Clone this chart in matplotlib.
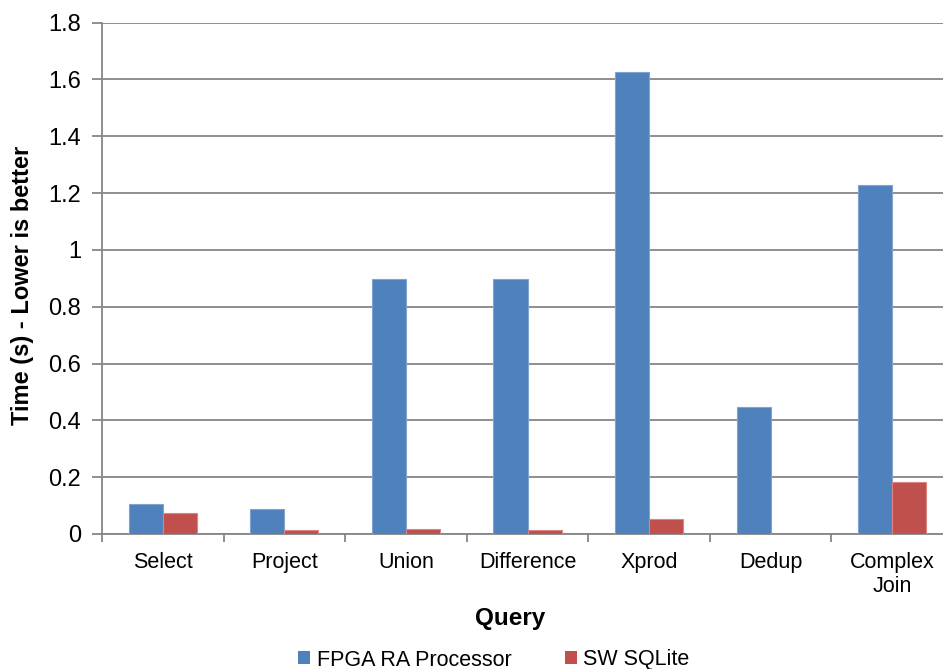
import matplotlib
matplotlib.use("Agg")
import matplotlib.pyplot as plt
import numpy as np
from matplotlib.patches import Patch

queries = ["Select", "Project", "Union", "Difference", "Xprod", "Dedup", "Complex\nJoin"]
fpga_times = [0.106, 0.088, 0.897, 0.897, 1.628, 0.446, 1.229]
sqlite_times = [0.075, 0.015, 0.018, 0.014, 0.052, 0.0, 0.183]
series_labels = ["FPGA RA Processor", "SW SQLite"]
yticks = [0, 0.2, 0.4, 0.6, 0.8, 1, 1.2, 1.4, 1.6, 1.8]

blue = "#4F81BD"
red = "#C0504D"
axis_gray = "#868686"

plt.rcParams["font.family"] = ["Liberation Sans", "DejaVu Sans"]

fig = plt.figure(figsize=(9.43, 6.69), dpi=100)
ax = fig.add_axes([0.1082, 0.2018, 0.9024, 0.7643])

x = np.arange(len(queries))
w = 0.28
ax.bar(x - w / 2, fpga_times, w, color=blue, edgecolor="#7FA3D3", linewidth=0.8, zorder=3)
ax.bar(x + w / 2, sqlite_times, w, color=red, edgecolor="#D98583", linewidth=0.8, zorder=3)

ax.set_xlim(-0.5, len(queries) - 0.5)
ax.set_ylim(0, 1.8)
ax.set_yticks(yticks)
ax.set_yticklabels([f"{v:g}" for v in yticks], fontsize=17)
ax.yaxis.grid(True, color=axis_gray, linewidth=1.3, zorder=0)
ax.set_axisbelow(True)

ax.set_xticks(x)
ax.set_xticklabels(queries, fontsize=15.5, linespacing=1.2)
ax.set_xticks(np.arange(len(queries) + 1) - 0.5, minor=True)
ax.tick_params(axis="x", which="major", length=0, pad=13)
ax.tick_params(axis="x", which="minor", length=6, width=1.3, color=axis_gray, direction="out")
ax.tick_params(axis="y", length=7, width=1.3, color=axis_gray, pad=8)

for side in ["top", "right"]:
    ax.spines[side].set_visible(False)
for side in ["left", "bottom"]:
    ax.spines[side].set_color(axis_gray)
    ax.spines[side].set_linewidth(1.3)

ax.set_xlabel("Query", fontsize=17.5, fontweight="bold")
ax.xaxis.set_label_coords((510 - 102) / (0.9024 * 943), -0.142)
fig.text(0.024, 0.574, "Time (s) - Lower is better", rotation=90,
         fontsize=17, fontweight="bold", ha="center", va="center")

handles = [Patch(facecolor=blue, label=series_labels[0]),
           Patch(facecolor=red, label=series_labels[1])]
fig.legend(handles=handles, loc="center", bbox_to_anchor=(494 / 943, 1 - 660 / 669),
           ncol=2, frameon=False, fontsize=15.5, handlelength=0.55, handleheight=0.55,
           handletextpad=0.3, columnspacing=2.5)

fig.savefig("out.png", dpi=100)
